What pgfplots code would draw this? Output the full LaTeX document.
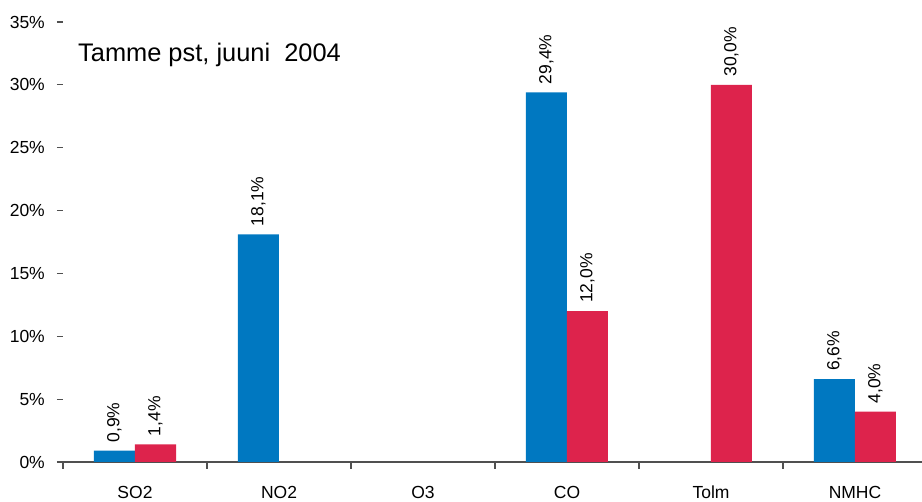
\documentclass[border=0pt]{standalone}
\usepackage{pgfplots}
\pgfplotsset{compat=1.18}
\usepackage{fontspec}
\setmainfont{Liberation Sans}
\definecolor{barblue}{RGB}{0,120,193}
\definecolor{barred}{RGB}{221,35,76}
\definecolor{axgray}{RGB}{80,80,80}
\begin{document}
\begin{tikzpicture}
\path[use as bounding box] (0,0) rectangle (922pt,502pt);
\begin{axis}[
  at={(63pt,40pt)}, anchor=south west,
  scale only axis, width=864pt, height=440pt,
  xmin=-0.5, xmax=5.5, ymin=0, ymax=35,
  ybar=0pt, bar width=41pt,
  axis x line*=bottom, axis y line*=left,
  y axis line style={draw=none},
  x axis line style={line width=2.8pt, axgray},
  xtick={0,...,5}, xticklabels={SO2,NO2,O3,CO,Tolm,NMHC},
  major x tick style={draw=none},
  minor xtick={-0.5,0.5,...,5.5},
  minor x tick style={line width=2pt, axgray},
  minor tick length=7pt,
  ytick={0,5,...,35},
  yticklabels={0\%,5\%,10\%,15\%,20\%,25\%,30\%,35\%},
  y tick style={line width=1.2pt, axgray},
  major tick length=6pt,
  tick align=outside,
  tick label style={font=\fontsize{17.5}{20}\selectfont},
  xticklabel style={anchor=base, yshift=-30.5pt},
  yticklabel style={anchor=east, inner sep=0pt, xshift=-12pt},
  nodes near coords, point meta=explicit symbolic,
  every node near coord/.append style={rotate=90, anchor=west,
    font=\fontsize{17.5}{20}\selectfont, inner xsep=8pt, inner ysep=1pt},
]
\addplot[fill=barblue, draw=none] coordinates {
  (0,0.9) [0,9\%]
  (1,18.1) [18,1\%]
  (3,29.4) [29,4\%]
  (5,6.6) [6,6\%]
};
\addplot[fill=barred, draw=none] coordinates {
  (0,1.4) [1,4\%]
  (3,12.0) [12,0\%]
  (4,30.0) [30,0\%]
  (5,4.0) [4,0\%]
};
\end{axis}
\node[anchor=base west, font=\fontsize{25.4}{30}\selectfont, inner sep=0pt]
  at (78pt,440pt) {Tamme pst, juuni\ \ 2004};
\end{tikzpicture}
\end{document}
